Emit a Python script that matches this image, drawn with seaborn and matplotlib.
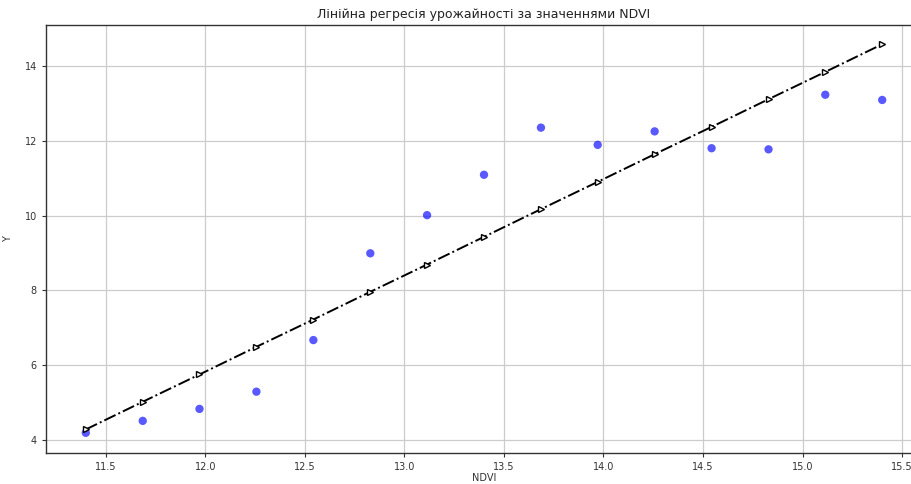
import numpy as np
import pandas as pd
import matplotlib
matplotlib.use("Agg")
import matplotlib.pyplot as plt
import seaborn as sns

# Data
ndvi = [11.400, 11.686, 11.971, 12.257, 12.543, 12.829, 13.114, 13.400,
        13.686, 13.971, 14.257, 14.543, 14.829, 15.114, 15.400]
y_obs = [4.19, 4.51, 4.83, 5.29, 6.67, 8.99, 10.01, 11.09,
         12.35, 11.89, 12.25, 11.80, 11.77, 13.23, 13.09]
y_fit = [4.28, 5.02, 5.75, 6.49, 7.22, 7.96, 8.69, 9.43,
         10.17, 10.90, 11.64, 12.37, 13.11, 13.84, 14.58]

title = "Лінійна регресія урожайності за значеннями NDVI"
xlabel = "NDVI"
ylabel = "Y"

df = pd.DataFrame({"NDVI": ndvi, "Y": y_obs, "fit": y_fit})

plt.rcParams['font.family'] = ['DejaVu Sans']
fig = plt.figure(figsize=(9.12, 4.84), dpi=100)
ax = fig.add_axes([0.0504, 0.064, 0.9606, 0.884])

sns.scatterplot(data=df, x="NDVI", y="Y", ax=ax, color="blue", alpha=0.65,
                s=36, edgecolor="none", zorder=3)
sns.lineplot(data=df, x="NDVI", y="fit", ax=ax, color="black", linestyle="-.",
             linewidth=1.4, marker=">", markersize=4.5, markerfacecolor="white",
             markeredgecolor="black", markeredgewidth=1.0, zorder=4)

ax.set_xlim(11.2, 15.6)
ax.set_ylim(3.65, 15.09)
ax.set_xticks([11.5, 12.0, 12.5, 13.0, 13.5, 14.0, 14.5, 15.0, 15.5])
ax.set_yticks([4, 6, 8, 10, 12, 14])
ax.grid(True, color="#cccccc", linewidth=0.9)
ax.set_axisbelow(True)
ax.tick_params(labelsize=7, length=3, width=0.8, colors="#333333")
for sp in ax.spines.values():
    sp.set_color("#333333")
    sp.set_linewidth(1.0)
ax.set_title(title, fontsize=9, color="#222222", pad=5)
ax.set_xlabel(xlabel, fontsize=7, color="#333333", labelpad=1)
ax.set_ylabel(ylabel, fontsize=7, color="#333333", labelpad=8)

fig.savefig("out.png", dpi=100)
